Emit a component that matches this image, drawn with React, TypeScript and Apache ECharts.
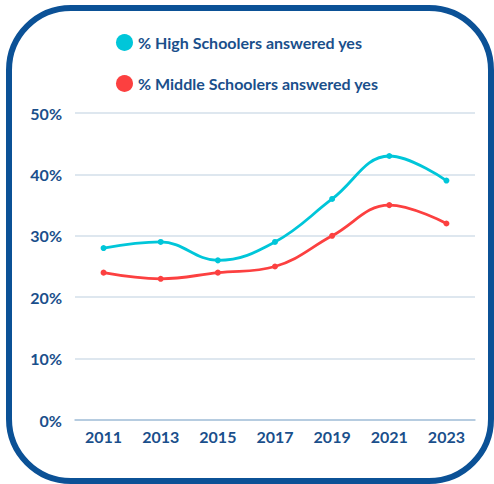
import React, { useEffect, useRef } from "react";
import * as echarts from "echarts";

const years = ["2011", "2013", "2015", "2017", "2019", "2021", "2023"];
const highSchool = [28, 29, 26, 29, 36, 43, 39];
const middleSchool = [24, 23, 24, 25, 30, 35, 32];
const seriesNames = ["% High Schoolers answered yes", "% Middle Schoolers answered yes"];

const TEXT = "#1a4f8b";
const FONT = "Lato";

export default function App() {
  const ref = useRef<HTMLDivElement>(null);
  useEffect(() => {
    document.body.style.margin = "0";
    const chart = echarts.init(ref.current!, null, { renderer: "svg" });
    chart.setOption({
      animation: false,
      backgroundColor: "#ffffff",
      graphic: [
        {
          type: "rect",
          shape: { x: 9, y: 8, width: 482, height: 473, r: 62 },
          style: { fill: "none", stroke: "#0b5196", lineWidth: 6 },
          z: -1,
        },
      ],
      legend: {
        orient: "vertical",
        left: 111,
        top: 29,
        itemWidth: 17,
        itemHeight: 17,
        itemGap: 24,
        icon: "circle",
        textStyle: { color: TEXT, fontFamily: FONT, fontWeight: "bold", fontSize: 16 },
        data: seriesNames,
      },
      grid: { left: 75, right: 19, top: 113, bottom: 64, containLabel: false },
      xAxis: {
        type: "category",
        data: years,
        boundaryGap: true,
        axisLine: { show: true, lineStyle: { color: "#a9c3dc", width: 1.5 } },
        axisTick: { show: false },
        axisLabel: { color: TEXT, fontFamily: FONT, fontWeight: "bold", fontSize: 16, margin: 8 },
      },
      yAxis: {
        type: "value",
        min: 0,
        max: 50,
        interval: 10,
        axisLine: { show: false },
        axisTick: { show: false },
        splitLine: { lineStyle: { color: "#d3dfea", width: 1.5 } },
        axisLabel: {
          color: TEXT,
          fontFamily: FONT,
          fontWeight: "bold",
          fontSize: 16,
          margin: 13,
          formatter: "{value}%",
        },
      },
      series: [
        {
          name: seriesNames[0],
          type: "line",
          data: highSchool,
          smooth: 0.4,
          symbol: "circle",
          symbolSize: 6,
          itemStyle: { color: "#00c6d9" },
          lineStyle: { color: "#00c6d9", width: 2.8 },
        },
        {
          name: seriesNames[1],
          type: "line",
          data: middleSchool,
          smooth: 0.4,
          symbol: "circle",
          symbolSize: 6,
          itemStyle: { color: "#fc4040" },
          lineStyle: { color: "#fc4040", width: 2.8 },
        },
      ],
    });
    return () => chart.dispose();
  }, []);
  return <div ref={ref} style={{ width: 494, height: 484 }} />;
}
